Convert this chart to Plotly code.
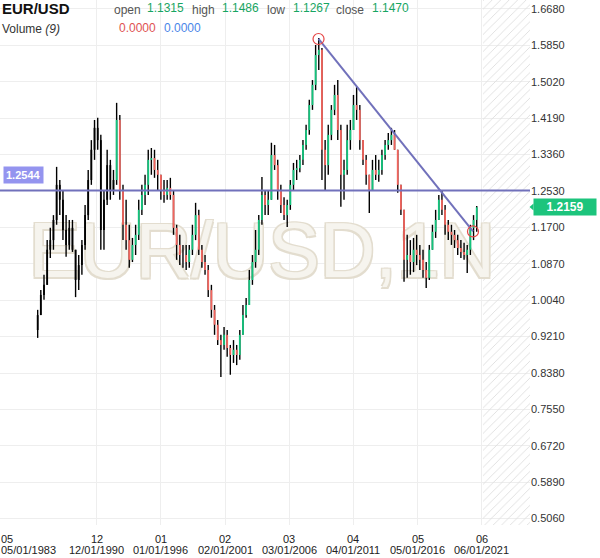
import plotly.graph_objects as go
import pandas as pd

# ---------------- data ----------------
pair = "EUR/USD"
watermark = "EUR/USD,1N"
first_candle = "1986-04-01"          # quarterly candles
candle_freq = "QS"

opens = [0.936, 0.970, 1.016, 1.039, 1.119, 1.141, 1.187, 1.267, 1.233, 1.164,
         1.130, 1.169, 1.119, 1.050, 1.084, 1.130, 1.198, 1.278, 1.347, 1.397,
         1.369, 1.164, 1.233, 1.312, 1.255, 1.278, 1.415, 1.255, 1.176, 1.141,
         1.096, 1.130, 1.153, 1.210, 1.244, 1.267, 1.324, 1.328, 1.301, 1.290,
         1.255, 1.244, 1.260, 1.244, 1.169, 1.130, 1.107, 1.107, 1.091, 1.119,
         1.153, 1.198, 1.119, 1.091, 1.073, 1.027, 0.982, 0.948, 0.913, 0.902,
         0.925, 0.895, 0.879, 0.891, 0.879, 0.925, 0.970, 0.993, 1.050, 1.091,
         1.119, 1.187, 1.244, 1.221, 1.233, 1.335, 1.312, 1.255, 1.221, 1.198,
         1.221, 1.267, 1.301, 1.305, 1.324, 1.358, 1.392, 1.449, 1.495, 1.563,
         1.575, 1.347, 1.312, 1.381, 1.438, 1.472, 1.392, 1.290, 1.301, 1.369,
         1.392, 1.449, 1.438, 1.369, 1.324, 1.290, 1.255, 1.301, 1.290, 1.301,
         1.335, 1.358, 1.369, 1.381, 1.347, 1.267, 1.210, 1.096, 1.107, 1.091,
         1.119, 1.107, 1.096, 1.073, 1.055, 1.119, 1.160, 1.187, 1.233, 1.210,
         1.176, 1.160, 1.153, 1.141, 1.123, 1.114, 1.107, 1.119, 1.169, 1.187]

highs = [0.982, 1.027, 1.062, 1.141, 1.169, 1.198, 1.308, 1.278, 1.255, 1.198,
         1.187, 1.187, 1.119, 1.107, 1.141, 1.221, 1.301, 1.369, 1.415, 1.420,
         1.381, 1.255, 1.347, 1.324, 1.301, 1.454, 1.426, 1.267, 1.233, 1.176,
         1.146, 1.176, 1.233, 1.267, 1.290, 1.347, 1.351, 1.347, 1.324, 1.290,
         1.278, 1.278, 1.283, 1.255, 1.176, 1.153, 1.130, 1.130, 1.130, 1.176,
         1.226, 1.210, 1.130, 1.107, 1.084, 1.039, 0.993, 0.959, 0.925, 0.943,
         0.936, 0.902, 0.913, 0.902, 0.936, 0.993, 1.009, 1.073, 1.107, 1.164,
         1.198, 1.285, 1.255, 1.255, 1.363, 1.358, 1.324, 1.267, 1.239, 1.233,
         1.278, 1.317, 1.324, 1.335, 1.369, 1.404, 1.461, 1.506, 1.586, 1.602,
         1.579, 1.369, 1.404, 1.449, 1.495, 1.506, 1.404, 1.324, 1.404, 1.415,
         1.472, 1.490, 1.449, 1.369, 1.335, 1.290, 1.324, 1.335, 1.324, 1.347,
         1.369, 1.385, 1.397, 1.392, 1.347, 1.267, 1.210, 1.153, 1.141, 1.146,
         1.153, 1.130, 1.119, 1.091, 1.130, 1.176, 1.210, 1.244, 1.253, 1.221,
         1.187, 1.176, 1.164, 1.153, 1.141, 1.135, 1.130, 1.176, 1.198, 1.219]

lows = [0.918, 0.970, 1.005, 1.039, 1.100, 1.119, 1.176, 1.198, 1.141, 1.103,
        1.119, 1.114, 1.011, 1.027, 1.062, 1.119, 1.187, 1.267, 1.324, 1.347,
        1.119, 1.119, 1.221, 1.233, 1.244, 1.267, 1.233, 1.141, 1.119, 1.078,
        1.091, 1.107, 1.141, 1.198, 1.221, 1.244, 1.290, 1.283, 1.255, 1.233,
        1.226, 1.233, 1.233, 1.153, 1.096, 1.084, 1.078, 1.073, 1.078, 1.107,
        1.141, 1.107, 1.078, 1.062, 1.011, 0.964, 0.925, 0.902, 0.829, 0.891,
        0.875, 0.834, 0.861, 0.856, 0.868, 0.925, 0.964, 0.993, 1.039, 1.078,
        1.107, 1.176, 1.198, 1.198, 1.233, 1.301, 1.233, 1.203, 1.187, 1.171,
        1.210, 1.255, 1.278, 1.296, 1.312, 1.347, 1.381, 1.438, 1.483, 1.529,
        1.278, 1.255, 1.290, 1.369, 1.426, 1.369, 1.217, 1.233, 1.290, 1.347,
        1.392, 1.415, 1.347, 1.312, 1.267, 1.203, 1.255, 1.278, 1.274, 1.290,
        1.324, 1.347, 1.358, 1.347, 1.249, 1.198, 1.046, 1.055, 1.062, 1.068,
        1.084, 1.073, 1.055, 1.032, 1.050, 1.119, 1.146, 1.187, 1.198, 1.153,
        1.141, 1.130, 1.123, 1.107, 1.100, 1.096, 1.066, 1.107, 1.141, 1.160]

closes = [0.970, 1.016, 1.039, 1.119, 1.141, 1.187, 1.267, 1.233, 1.164, 1.130,
          1.169, 1.119, 1.050, 1.084, 1.130, 1.198, 1.278, 1.347, 1.397, 1.369,
          1.164, 1.233, 1.312, 1.255, 1.278, 1.415, 1.255, 1.176, 1.141, 1.096,
          1.130, 1.153, 1.210, 1.244, 1.267, 1.324, 1.328, 1.301, 1.290, 1.255,
          1.244, 1.260, 1.244, 1.169, 1.130, 1.107, 1.107, 1.091, 1.119, 1.153,
          1.198, 1.119, 1.091, 1.073, 1.027, 0.982, 0.948, 0.913, 0.902, 0.925,
          0.895, 0.879, 0.891, 0.879, 0.925, 0.970, 0.993, 1.050, 1.091, 1.119,
          1.187, 1.244, 1.221, 1.233, 1.335, 1.312, 1.255, 1.221, 1.198, 1.221,
          1.267, 1.301, 1.305, 1.324, 1.358, 1.392, 1.449, 1.495, 1.563, 1.575,
          1.347, 1.312, 1.381, 1.438, 1.472, 1.392, 1.290, 1.301, 1.369, 1.392,
          1.449, 1.438, 1.369, 1.324, 1.290, 1.255, 1.301, 1.290, 1.301, 1.335,
          1.358, 1.369, 1.381, 1.347, 1.267, 1.210, 1.096, 1.107, 1.091, 1.119,
          1.107, 1.096, 1.073, 1.055, 1.119, 1.160, 1.187, 1.233, 1.210, 1.176,
          1.160, 1.153, 1.141, 1.123, 1.114, 1.107, 1.119, 1.169, 1.187, 1.2159]

# header legend values
ohlc_labels = ["open", "high", "low", "close"]
ohlc_values = ["1.1315", "1.1486", "1.1267", "1.1470"]
volume_label = "Volume"
volume_period = "(9)"
volume_values = ["0.0000", "0.0000"]

# drawings
hline_level = 1.2544
last_price = 1.2159
trend_dates = ["2008-06-24", "2020-09-15"]
trend_prices = [1.5996, 1.1607]

# axes
y_ticks = [0.5060, 0.5890, 0.6720, 0.7550, 0.8380, 0.9210, 1.0040, 1.0870,
           1.1700, 1.2530, 1.3360, 1.4190, 1.5020, 1.5850, 1.6680]
x_tick_dates = ["1983-05-01", "1990-12-01", "1996-01-01", "2001-02-01",
                "2006-03-01", "2011-04-01", "2016-05-01", "2021-06-01"]
x_tick_top = ["05", "12", "01", "02", "03", "04", "05", "06"]
x_tick_bottom = ["05/01/1983", "12/01/1990", "01/01/1996", "02/01/2001",
                 "03/01/2006", "04/01/2011", "05/01/2016", "06/01/2021"]

# ---------------- style ----------------
GREEN = "#12c47c"
RED = "#f2645d"
LINE = "#7171bb"
FONT = "Liberation Sans, Arial, sans-serif"
mono_until = pd.Timestamp("1992-06-30")
x_range = [pd.Timestamp("1983-04-08"), pd.Timestamp("2025-03-21")]
y_range = [0.4914, 1.6885]
future_start = pd.Timestamp("2021-07-01")

PLOT_W, PLOT_H = 530, 525

dates = pd.date_range(first_candle, periods=len(closes), freq=candle_freq)

fig = go.Figure()

# hatched "future" area
fut_w = (x_range[1] - future_start).total_seconds() * 1000
fut_mid = future_start + (x_range[1] - future_start) / 2
fig.add_trace(go.Bar(
    x=[fut_mid], y=[y_range[1] - y_range[0]], base=[y_range[0]], width=[fut_w],
    marker=dict(color="rgba(0,0,0,0)", line=dict(width=0),
                pattern=dict(shape="/", fgcolor="#dedede", bgcolor="rgba(0,0,0,0)",
                             size=6, solidity=0.15, fillmode="replace")),
    hoverinfo="skip", showlegend=False))

# watermark
fig.add_trace(go.Scatter(
    x=[pd.Timestamp("2004-01-01")], y=[1.100], mode="text", text=[watermark],
    textposition="middle center",
    textfont=dict(family=FONT, size=77, color="#f6f4ee",
                  shadow="1.5px 1.5px 0 #e3ddcf, -1.5px -1.5px 0 #e3ddcf, 1.5px -1.5px 0 #e3ddcf, -1.5px 1.5px 0 #e3ddcf"),
    hoverinfo="skip", showlegend=False))

# wicks
wx, wy = [], []
for d, h, l in zip(dates, highs, lows):
    wx += [d, d, None]
    wy += [l, h, None]
fig.add_trace(go.Scatter(x=wx, y=wy, mode="lines", line=dict(color="#000000", width=1.4),
                         hoverinfo="skip", showlegend=False))

# bodies (drawn as thick segments, grouped by colour)
groups = {"mono": ([], []), "up": ([], []), "down": ([], [])}
for d, o, c in zip(dates, opens, closes):
    key = "mono" if d <= mono_until else ("up" if c >= o else "down")
    groups[key][0].extend([d, d, None])
    groups[key][1].extend([o, c, None])
for key, col in [("mono", "#000000"), ("up", GREEN), ("down", RED)]:
    gx, gy = groups[key]
    fig.add_trace(go.Scatter(x=gx, y=gy, mode="lines", line=dict(color=col, width=1.8),
                             hoverinfo="skip", showlegend=False))

# horizontal level
fig.add_trace(go.Scatter(x=x_range, y=[hline_level, hline_level], mode="lines",
                         line=dict(color=LINE, width=2), hoverinfo="skip", showlegend=False))
# trend line
fig.add_trace(go.Scatter(x=trend_dates, y=trend_prices, mode="lines",
                         line=dict(color=LINE, width=2), hoverinfo="skip", showlegend=False))
fig.add_trace(go.Scatter(x=trend_dates, y=trend_prices, mode="markers",
                         marker=dict(symbol="circle-open", size=11, color="#e64545",
                                     line=dict(width=1.2)),
                         hoverinfo="skip", showlegend=False))


def px(x):
    return x / PLOT_W


def py(y):
    return 1 - y / PLOT_H


ann = []
ann.append(dict(x=px(0), y=py(9), xref="paper", yref="paper", xanchor="left", yanchor="middle",
                text="<b>" + pair + "</b>", showarrow=False,
                font=dict(family=FONT, size=15, color="#111111")))
label_x = [112, 190, 265, 334]
value_x = [145, 220, 291, 370]
for lab, val, lx, vx in zip(ohlc_labels, ohlc_values, label_x, value_x):
    ann.append(dict(x=px(lx), y=py(10), xref="paper", yref="paper", xanchor="left", yanchor="middle",
                    text=lab, showarrow=False,
                    font=dict(family=FONT, size=12, color="#555555")))
    ann.append(dict(x=px(vx), y=py(8), xref="paper", yref="paper", xanchor="left", yanchor="middle",
                    text=val, showarrow=False,
                    font=dict(family=FONT, size=12, color="#17a562")))
ann.append(dict(x=px(0), y=py(29), xref="paper", yref="paper", xanchor="left", yanchor="middle",
                text=volume_label + " <i>" + volume_period + "</i>", showarrow=False,
                font=dict(family=FONT, size=12, color="#333333")))
for val, vx, col in zip(volume_values, [117, 162], ["#e05252", "#4a86e8"]):
    ann.append(dict(x=px(vx), y=py(28), xref="paper", yref="paper", xanchor="left", yanchor="middle",
                    text=val, showarrow=False,
                    font=dict(family=FONT, size=12, color=col)))
# level label
ann.append(dict(x=px(3), y=hline_level, xref="paper", yref="y", xanchor="left", yanchor="middle",
                yshift=15, text="<b>%.4f</b>" % hline_level, showarrow=False,
                bgcolor="#9494ef", borderpad=2,
                font=dict(family=FONT, size=11, color="#ffffff")))
# last price label
ann.append(dict(x=px(533), y=last_price, xref="paper", yref="y", xanchor="left", yanchor="middle",
                text="<b>%.4f</b>" % last_price, showarrow=False, width=60, height=14,
                bgcolor="#1cc47c", borderpad=1, align="center",
                font=dict(family=FONT, size=12, color="#ffffff")))

# x tick labels (two lines, first one clamped to the left edge)
x0 = x_range[0]
span = (x_range[1] - x_range[0]).total_seconds()
for d, top, bot in zip(x_tick_dates, x_tick_top, x_tick_bottom):
    frac = (pd.Timestamp(d) - x0).total_seconds() / span
    if frac * PLOT_W < 28:
        kw = dict(x=0, xanchor="left")
    else:
        kw = dict(x=frac, xanchor="center")
    for txt, yy in [(top, 539), (bot, 550)]:
        ann.append(dict(xref="paper", yref="paper", y=py(yy), yanchor="middle", text=txt,
                        showarrow=False, font=dict(family=FONT, size=11, color="#222222"),
                        borderpad=0, **kw))

shapes = [dict(type="path", xref="paper", yref="paper",
               path="M %f %f L %f %f L %f %f Z" % (px(529.5), py(207), px(533.5), py(203.5),
                                                  px(533.5), py(210.5)),
               fillcolor="#1cc47c", line=dict(width=0))]

fig.update_layout(
    width=600, height=558,
    margin=dict(l=0, r=70, t=0, b=33),
    paper_bgcolor="#ffffff", plot_bgcolor="#ffffff",
    barmode="overlay", bargap=0,
    showlegend=False,
    annotations=ann, shapes=shapes,
    font=dict(family=FONT, size=11, color="#333333"),
    xaxis=dict(type="date", range=x_range, tickvals=x_tick_dates, showticklabels=False,
               showgrid=True, gridcolor="#eeeeee", gridwidth=1, zeroline=False, showline=False,
               ticks="", automargin=False, fixedrange=True),
    yaxis=dict(side="right", range=y_range, tickvals=y_ticks,
               ticktext=["%.4f" % v for v in y_ticks],
               showgrid=True, gridcolor="#eeeeee", gridwidth=1, zeroline=False, showline=False,
               ticks="", tickfont=dict(size=11, color="#333333"), automargin=False,
               fixedrange=True),
)

fig.write_html("out.html", config={"displayModeBar": False},
               post_script="document.body.style.margin='0';document.body.style.padding='0';document.body.style.overflow='hidden';")
